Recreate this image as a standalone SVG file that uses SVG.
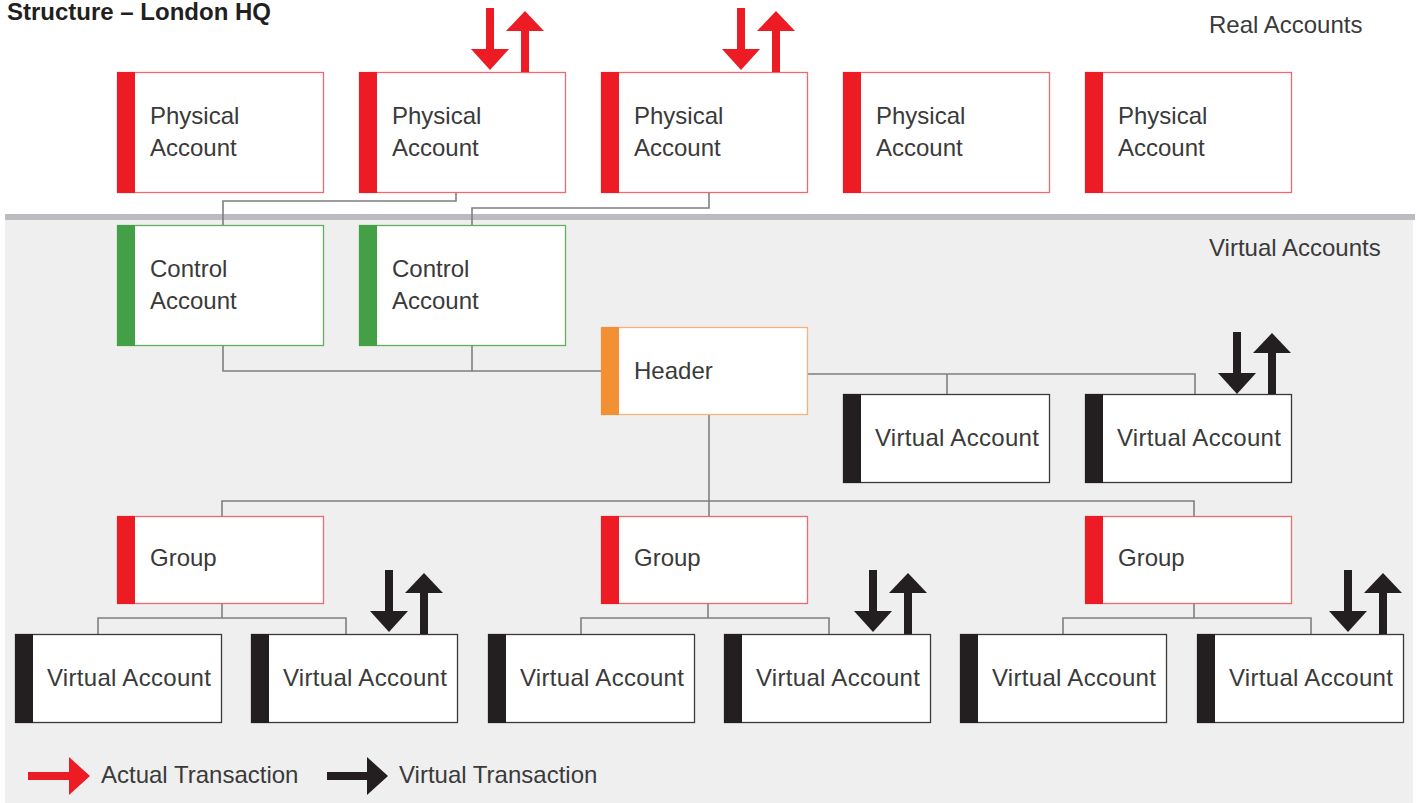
<svg xmlns="http://www.w3.org/2000/svg" width="1416" height="803" viewBox="0 0 1416 803">
<style>
text{font-family:"Liberation Sans",Arial,sans-serif;font-size:24px;fill:#3a3a3a}
.title{font-weight:bold;fill:#231f20}
.va{letter-spacing:0.3px}
.box{fill:#fff;stroke-width:1.3}
.red{stroke:#f06870}
.grn{stroke:#64ad5f}
.org{stroke:#f5b27e}
.blk{stroke:#3a3a3a}
.barR{fill:#ed1c24}
.barG{fill:#43a047}
.barO{fill:#f39033}
.barB{fill:#231f20}
.conn{fill:none;stroke:#7f7f7f;stroke-width:1.6}
.ar{fill:#ed1c24}
.ab{fill:#231f20}
</style>
<defs>
<g id="down"><rect x="-4" y="-62" width="8" height="42"/><polygon points="-19,-21 19,-21 0,0"/></g>
<g id="up"><rect x="-4" y="-42" width="8" height="42"/><polygon points="-19,-41 19,-41 0,-61"/></g>
</defs>
<rect x="0" y="0" width="1416" height="803" fill="#fff"/>
<rect x="5" y="220" width="1408" height="583" fill="#efefef"/>
<rect x="5" y="214" width="1410" height="6" fill="#bcbcc0"/>
<text class="title" x="7" y="20">Structure – London HQ</text>
<text x="1209" y="33">Real Accounts</text>
<text x="1209" y="256">Virtual Accounts</text>

<g id="connectors">
<polyline class="conn" points="456,192 456,201 223,201 223,225"/>
<polyline class="conn" points="709,192 709,208 472,208 472,225"/>
<polyline class="conn" points="223,345 223,371 601,371"/>
<line class="conn" x1="472" y1="345" x2="472" y2="371"/>
<polyline class="conn" points="807,374 1195,374 1195,394"/>
<line class="conn" x1="947" y1="374" x2="947" y2="394"/>
<line class="conn" x1="709" y1="414" x2="709" y2="516"/>
<polyline class="conn" points="222,516 222,501 1194,501 1194,516"/>
<polyline class="conn" points="222,604 222,618"/>
<polyline class="conn" points="98,634 98,618 346,618 346,634"/>
<polyline class="conn" points="708,604 708,618"/>
<polyline class="conn" points="581,634 581,618 829,618 829,634"/>
<polyline class="conn" points="1194,604 1194,618"/>
<polyline class="conn" points="1063,634 1063,618 1311,618 1311,634"/>
</g>

<g id="physical1"><rect class="box red" x="117.5" y="72.5" width="206" height="120"/><rect class="barR" x="117" y="72" width="18" height="121"/><text x="150" y="124">Physical</text><text x="150" y="156">Account</text></g>
<g id="physical2"><rect class="box red" x="359.5" y="72.5" width="206" height="120"/><rect class="barR" x="359" y="72" width="18" height="121"/><text x="392" y="124">Physical</text><text x="392" y="156">Account</text></g>
<g id="physical3"><rect class="box red" x="601.5" y="72.5" width="206" height="120"/><rect class="barR" x="601" y="72" width="18" height="121"/><text x="634" y="124">Physical</text><text x="634" y="156">Account</text></g>
<g id="physical4"><rect class="box red" x="843.5" y="72.5" width="206" height="120"/><rect class="barR" x="843" y="72" width="18" height="121"/><text x="876" y="124">Physical</text><text x="876" y="156">Account</text></g>
<g id="physical5"><rect class="box red" x="1085.5" y="72.5" width="206" height="120"/><rect class="barR" x="1085" y="72" width="18" height="121"/><text x="1118" y="124">Physical</text><text x="1118" y="156">Account</text></g>

<g id="control1"><rect class="box grn" x="117.5" y="225.5" width="206" height="120"/><rect class="barG" x="117" y="225" width="18" height="121"/><text x="150" y="277">Control</text><text x="150" y="309">Account</text></g>
<g id="control2"><rect class="box grn" x="359.5" y="225.5" width="206" height="120"/><rect class="barG" x="359" y="225" width="18" height="121"/><text x="392" y="277">Control</text><text x="392" y="309">Account</text></g>

<g id="header"><rect class="box org" x="601.5" y="327.5" width="206" height="87"/><rect class="barO" x="601" y="327" width="18" height="88"/><text x="634" y="379">Header</text></g>

<g id="va-top1"><rect class="box blk" x="843.5" y="394.5" width="206" height="88"/><rect class="barB" x="843" y="394" width="18" height="89"/><text class="va" x="875" y="446">Virtual Account</text></g>
<g id="va-top2"><rect class="box blk" x="1085.5" y="394.5" width="206" height="88"/><rect class="barB" x="1085" y="394" width="18" height="89"/><text class="va" x="1117" y="446">Virtual Account</text></g>

<g id="group1"><rect class="box red" x="117.5" y="516.5" width="206" height="87"/><rect class="barR" x="117" y="516" width="18" height="88"/><text x="150" y="566">Group</text></g>
<g id="group2"><rect class="box red" x="601.5" y="516.5" width="206" height="87"/><rect class="barR" x="601" y="516" width="18" height="88"/><text x="634" y="566">Group</text></g>
<g id="group3"><rect class="box red" x="1085.5" y="516.5" width="206" height="87"/><rect class="barR" x="1085" y="516" width="18" height="88"/><text x="1118" y="566">Group</text></g>

<g id="va1"><rect class="box blk" x="15.5" y="634.5" width="206" height="88"/><rect class="barB" x="15" y="634" width="18" height="89"/><text class="va" x="47" y="686">Virtual Account</text></g>
<g id="va2"><rect class="box blk" x="251.5" y="634.5" width="206" height="88"/><rect class="barB" x="251" y="634" width="18" height="89"/><text class="va" x="283" y="686">Virtual Account</text></g>
<g id="va3"><rect class="box blk" x="488.5" y="634.5" width="206" height="88"/><rect class="barB" x="488" y="634" width="18" height="89"/><text class="va" x="520" y="686">Virtual Account</text></g>
<g id="va4"><rect class="box blk" x="724.5" y="634.5" width="206" height="88"/><rect class="barB" x="724" y="634" width="18" height="89"/><text class="va" x="756" y="686">Virtual Account</text></g>
<g id="va5"><rect class="box blk" x="960.5" y="634.5" width="206" height="88"/><rect class="barB" x="960" y="634" width="18" height="89"/><text class="va" x="992" y="686">Virtual Account</text></g>
<g id="va6"><rect class="box blk" x="1197.5" y="634.5" width="206" height="88"/><rect class="barB" x="1197" y="634" width="18" height="89"/><text class="va" x="1229" y="686">Virtual Account</text></g>

<g id="transactions">
<use href="#down" class="ar" x="490" y="70"/><use href="#up" class="ar" x="525" y="72"/>
<use href="#down" class="ar" x="741" y="70"/><use href="#up" class="ar" x="776" y="72"/>
<use href="#down" class="ab" x="1237" y="394"/><use href="#up" class="ab" x="1272" y="394"/>
<use href="#down" class="ab" x="389" y="632"/><use href="#up" class="ab" x="424" y="634"/>
<use href="#down" class="ab" x="873" y="632"/><use href="#up" class="ab" x="908" y="634"/>
<use href="#down" class="ab" x="1348" y="632"/><use href="#up" class="ab" x="1383" y="634"/>
</g>

<g id="legend">
<rect class="ar" x="28" y="772" width="42" height="8"/><polygon class="ar" points="69,757 69,795 90,776"/>
<text x="101" y="783">Actual Transaction</text>
<rect class="ab" x="327" y="772" width="41" height="8"/><polygon class="ab" points="367,757 367,795 388,776"/>
<text x="399" y="783">Virtual Transaction</text>
</g>
</svg>
